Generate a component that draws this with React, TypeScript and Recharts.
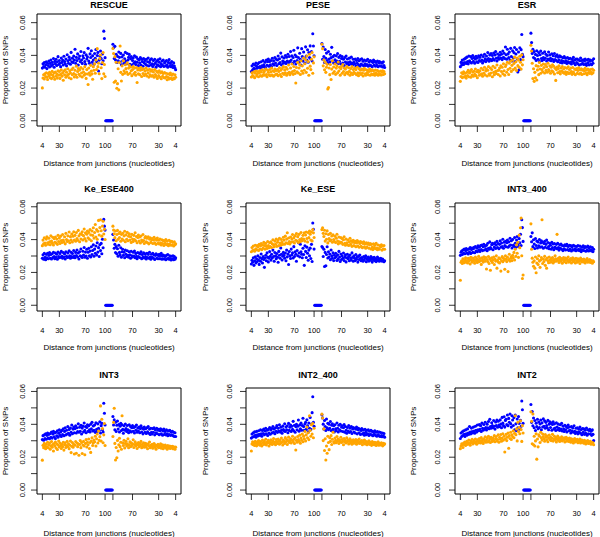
import React from 'react';
import { ScatterChart, Scatter, XAxis, YAxis, ReferenceArea } from 'recharts';

// Proportion of SNPs, stored in units of 1e-4 (e.g. 335 = 0.0335).
// "_L" arrays: distances 4..100 (left half); "_R" arrays: distances 100..4 (right half).
const TITLES = ['RESCUE', 'PESE', 'ESR', 'Ke_ESE400', 'Ke_ESE', 'INT3_400', 'INT3', 'INT2_400', 'INT2'];
const X_TICK_LEFT = [4, 30, 70, 100];
const X_TICK_RIGHT = [100, 70, 30, 4];
const Y_TICKS = [0, 0.01, 0.02, 0.03, 0.04, 0.05, 0.06];
const Y_TICK_LABELS = ['0.00', '', '0.02', '', '0.04', '', '0.06'];
const JUNCTION_ZEROS = [0, 0, 0, 0, 0, 0, 0, 0, 0, 0, 0];

const RESCUE_BLUE_L = [322,348,331,356,327,343,361,319,352,338,366,329,351,372,336,358,344,381,327,363,349,376,338,361,392,344,369,352,331,384,357,371,341,395,362,349,378,336,404,367,352,389,374,346,418,361,383,357,396,371,437,352,388,369,409,341,381,396,362,424,372,351,398,384,417,362,346,403,378,391,443,366,352,409,387,428,358,397,371,346,411,382,436,362,399,418,304,371,396,427,381,349,408,367,548,503,386];
const RESCUE_BLUE_R = [468,447,381,455,372,407,356,394,367,421,388,359,412,343,391,367,402,352,379,418,364,351,411,372,388,406,346,379,393,341,369,384,352,397,361,344,389,358,378,337,372,353,386,341,377,362,333,381,354,369,345,376,338,361,384,336,357,371,341,379,349,332,368,344,376,353,328,364,342,373,337,358,379,331,348,366,339,371,332,354,361,336,368,342,328,357,374,335,351,331,362,339,326,354,335,322,312];
const RESCUE_ORANGE_L = [201,262,281,256,287,271,294,266,252,289,276,297,263,284,258,302,279,268,293,254,298,272,287,261,306,279,301,259,284,311,273,293,248,304,281,312,266,297,276,318,284,263,306,292,257,314,281,323,289,268,309,281,334,266,301,319,284,311,274,326,292,268,317,298,279,331,288,259,313,286,222,323,294,278,339,304,287,254,331,309,348,291,372,314,441,331,352,288,381,402,324,258,356,417,287,344,271];
const RESCUE_ORANGE_R = [442,411,236,392,243,358,199,227,318,189,356,457,296,243,336,284,367,306,291,343,319,298,354,284,322,339,291,329,306,276,313,331,287,322,297,279,326,234,311,288,321,282,309,326,271,313,289,318,277,305,286,322,274,309,292,267,315,281,303,272,311,277,298,266,313,283,272,302,259,296,276,305,266,293,257,299,272,289,264,295,262,291,271,251,287,265,256,283,292,259,279,253,286,262,257,281,266];

const PESE_BLUE_L = [301,336,312,347,321,341,316,353,334,322,349,327,356,331,322,361,336,329,368,342,331,358,323,371,339,362,377,334,363,343,369,331,382,348,367,341,387,353,376,338,372,396,349,379,356,414,342,391,366,352,384,359,399,351,389,366,407,357,393,363,423,371,397,351,387,431,363,402,347,392,368,446,387,358,413,376,341,441,393,366,421,384,353,452,396,371,434,358,417,387,458,378,424,366,532,457,398];
const PESE_BLUE_R = [472,376,451,393,356,436,382,414,369,351,423,378,361,407,386,449,366,392,353,401,373,357,397,366,411,351,388,363,399,347,381,393,353,376,339,387,359,396,351,378,356,343,383,361,347,389,353,341,376,358,349,377,336,369,352,381,342,367,334,374,347,379,341,364,336,372,349,338,367,344,376,333,361,342,369,337,363,331,356,371,341,363,334,357,339,366,331,354,362,336,358,333,352,329,361,337,326];
const PESE_ORANGE_L = [268,293,277,272,299,263,291,304,274,288,301,269,292,307,276,298,272,311,279,295,304,278,316,283,269,309,297,281,314,276,299,322,279,306,273,301,317,282,308,286,313,276,302,324,283,309,271,319,291,331,284,311,293,327,279,316,291,341,297,282,323,294,347,301,284,332,307,289,231,326,299,357,292,323,342,283,367,304,336,291,384,309,349,373,296,396,321,362,278,407,334,313,376,417,291,354,391];
const PESE_ORANGE_R = [468,441,336,372,312,358,296,327,345,194,203,323,282,344,252,316,367,291,329,301,347,284,322,336,293,359,304,327,279,318,332,291,344,301,323,282,316,293,331,297,287,324,302,278,319,292,331,283,314,296,322,289,313,281,327,294,276,318,291,309,283,316,292,274,309,321,287,279,312,293,308,282,301,317,278,304,286,311,281,306,289,278,310,292,284,307,279,301,286,282,304,280,297,306,283,301,288];

const ESR_BLUE_L = [331,357,341,372,354,344,377,356,383,351,389,362,348,396,367,359,392,354,381,399,363,386,352,378,394,361,384,356,397,369,388,364,402,371,353,393,366,407,379,362,396,373,417,381,364,403,376,411,368,399,381,414,371,403,423,382,366,408,387,376,401,419,383,407,374,426,388,413,381,451,404,377,437,409,386,421,371,443,393,366,428,384,417,448,362,408,436,379,298,421,312,447,374,435,528,406,392];
const ESR_BLUE_R = [536,478,412,437,387,423,381,406,369,428,399,376,417,362,404,426,381,368,413,386,374,422,383,407,366,399,378,421,371,403,382,367,410,376,398,363,411,374,394,369,403,361,389,372,397,356,391,368,353,386,364,392,357,383,366,351,387,361,379,354,382,359,347,376,363,388,352,371,343,378,356,377,349,372,341,367,384,346,369,352,373,344,366,377,348,339,371,353,376,342,364,371,347,343,368,352,379];
const ESR_ORANGE_L = [241,271,293,264,286,299,268,291,274,261,296,277,308,269,292,301,266,313,279,298,272,303,284,317,276,300,263,309,296,278,306,282,321,288,273,312,291,327,280,304,316,274,309,331,287,278,323,292,314,269,333,296,281,324,302,289,341,307,283,309,322,274,336,301,327,288,348,306,279,332,343,297,358,314,283,352,321,366,302,339,371,313,351,389,322,361,307,383,337,371,327,395,358,316,404,342,373];
const ESR_ORANGE_R = [462,427,352,258,318,241,296,263,337,249,311,333,282,356,317,291,339,313,300,347,326,292,344,308,331,297,352,313,304,336,291,327,306,342,299,333,286,321,247,313,328,294,319,336,301,287,323,304,332,296,317,291,326,300,284,321,297,330,289,314,293,322,301,284,326,298,289,316,281,312,319,290,307,324,286,313,292,318,283,309,314,288,306,323,291,310,282,317,294,308,290,313,296,287,317,293,309];

const KE_ESE400_BLUE_L = [286,307,281,316,292,278,310,289,317,283,304,321,286,309,282,314,291,323,296,284,318,292,311,280,324,297,289,316,293,328,299,286,321,294,313,282,326,298,291,319,293,332,301,287,323,296,316,291,334,300,289,322,303,337,294,318,282,326,301,343,297,291,329,306,352,293,324,300,341,286,323,347,302,331,294,356,309,334,368,299,342,317,361,306,381,324,351,297,369,333,377,314,402,350,523,482,458];
const KE_ESE400_BLUE_R = [432,398,347,371,321,357,313,344,299,366,322,307,350,293,326,341,304,323,289,336,311,297,332,304,293,326,308,286,329,302,294,323,300,331,289,316,298,284,321,296,317,291,312,326,284,309,293,320,288,313,296,282,317,291,310,286,323,294,281,311,292,316,287,308,279,304,313,286,307,283,301,310,284,303,316,281,299,306,282,302,297,278,304,283,309,286,280,301,284,276,299,282,301,278,296,281,289];
const KE_ESE400_ORANGE_L = [363,397,374,411,379,366,403,417,381,372,408,386,369,423,391,378,414,367,406,384,416,380,403,371,426,388,409,376,421,394,382,431,397,386,417,374,438,400,389,423,393,446,381,418,397,434,386,421,447,398,426,390,443,407,396,456,423,387,436,404,432,448,398,424,465,406,441,392,433,452,411,444,402,461,429,393,452,426,472,409,443,492,416,461,402,451,517,428,473,521,454,421,483,512,434,463,401];
const KE_ESE400_ORANGE_R = [482,458,436,412,452,393,431,456,402,437,413,446,390,432,404,438,396,423,451,387,429,402,444,393,421,436,398,417,383,432,404,389,426,400,442,393,419,381,413,428,391,416,379,422,397,388,431,394,376,412,419,386,408,381,417,374,403,411,383,400,407,376,398,414,380,402,371,397,409,378,396,373,404,381,367,399,376,394,364,392,377,400,369,391,373,363,396,371,389,366,390,368,384,361,386,369,374];

const KE_ESE_BLUE_L = [251,274,262,289,243,271,295,258,283,267,302,276,249,291,268,312,284,257,296,279,231,288,305,271,319,293,264,286,327,298,275,311,288,336,297,268,321,302,284,315,293,262,328,305,286,349,311,276,299,322,304,287,318,271,336,295,312,248,327,301,285,342,306,319,288,357,297,326,311,268,334,302,381,318,295,372,326,311,289,347,309,243,362,328,291,354,317,274,336,302,348,285,371,267,501,463,342];
const KE_ESE_BLUE_R = [358,352,297,341,236,322,241,309,356,288,326,294,312,278,337,301,286,319,272,305,289,317,296,273,308,281,328,294,267,312,279,301,286,318,272,293,307,264,289,311,283,297,271,306,288,276,319,292,268,301,287,272,309,281,295,263,298,279,306,286,271,291,282,268,297,276,289,301,265,284,278,293,269,285,274,296,281,263,289,276,292,271,283,266,279,294,272,285,268,279,286,274,269,281,273,265,271];
const KE_ESE_ORANGE_L = [326,352,333,361,337,329,366,344,338,363,357,334,371,343,362,376,339,367,348,383,364,342,377,359,346,388,363,351,381,357,386,352,374,399,368,356,391,372,403,359,384,397,363,408,379,366,401,383,371,414,397,372,421,381,403,442,376,410,388,373,416,384,403,431,387,412,379,424,396,437,391,418,383,432,400,387,443,406,394,426,404,442,391,428,446,407,386,443,412,452,433,398,446,392,462,441,413];
const KE_ESE_ORANGE_R = [461,472,438,419,457,391,436,402,453,380,431,406,393,438,397,422,384,429,401,389,420,382,408,433,391,374,416,387,379,412,384,406,371,399,417,378,366,403,381,369,397,364,386,408,371,393,359,384,396,363,382,390,357,379,394,361,386,353,377,388,359,383,351,376,387,356,374,348,381,354,372,379,347,368,376,343,371,353,339,374,351,366,344,377,349,338,367,346,341,363,357,368,336,361,343,364,341];

const INT3_400_BLUE_L = [304,323,331,309,336,317,342,314,333,346,319,340,312,343,324,351,316,339,348,322,344,353,320,357,331,349,326,362,336,354,328,363,340,367,333,356,372,337,360,343,366,332,378,347,341,386,352,344,369,377,338,373,354,381,346,367,389,352,376,344,371,393,353,379,358,402,347,384,363,390,356,381,397,353,386,362,408,367,393,349,401,366,359,413,378,354,397,419,372,358,406,381,432,364,521,473,389];
const INT3_400_BLUE_R = [419,387,441,357,399,373,346,407,364,391,349,386,362,401,354,379,393,356,384,347,376,389,353,371,397,349,382,358,344,377,366,342,383,351,373,338,376,354,347,371,344,377,352,336,368,349,373,341,364,333,361,344,369,337,363,372,340,358,334,366,342,363,331,357,339,366,336,361,344,332,358,337,364,341,333,360,339,327,354,336,362,334,351,357,329,353,336,360,331,349,333,356,338,331,352,327,341];
const INT3_400_ORANGE_L = [152,262,271,254,283,266,259,277,289,264,273,258,286,269,281,252,292,274,263,287,268,279,256,294,272,284,261,277,298,266,285,271,249,289,276,263,295,282,268,291,221,279,266,297,254,284,213,272,289,261,277,294,248,282,269,301,226,276,263,289,258,283,208,271,296,265,287,274,219,302,281,266,293,205,278,311,269,286,297,272,304,289,322,276,341,298,368,317,384,292,427,351,472,531,302,163,184];
const INT3_400_ORANGE_R = [496,341,287,262,238,271,226,294,198,257,283,248,302,269,231,276,291,521,254,282,267,298,243,279,226,288,271,259,294,276,262,285,272,291,257,278,266,301,283,269,432,274,286,261,292,277,268,284,256,279,291,266,276,288,259,282,271,294,263,278,269,284,257,276,289,265,273,281,258,286,271,262,283,268,277,254,287,273,266,279,264,281,272,258,276,269,284,262,274,267,279,261,273,268,256,271,265];

const INT3_BLUE_L = [307,331,303,336,314,342,309,333,347,316,339,312,344,321,353,316,341,357,324,348,313,352,330,361,322,346,367,333,354,326,363,338,372,331,357,379,336,364,341,386,346,369,334,377,352,396,343,371,383,349,374,391,347,379,356,403,352,382,358,394,341,377,389,354,408,363,386,349,381,397,357,392,366,353,401,372,412,359,390,364,396,351,409,369,357,403,376,362,416,347,392,406,367,353,528,467,396];
const INT3_BLUE_R = [448,396,427,367,413,356,394,420,371,399,353,388,406,362,397,369,346,391,364,402,374,357,393,366,349,397,361,386,354,379,392,358,381,347,386,364,396,352,377,359,383,349,374,391,353,377,342,370,384,351,373,344,379,354,387,346,371,338,376,352,341,374,352,379,336,367,348,376,343,364,370,337,361,373,342,366,334,359,371,339,357,336,366,342,331,360,338,363,333,354,336,358,331,352,326,349,326];
const INT3_ORANGE_L = [182,272,258,284,266,251,279,263,291,257,274,286,249,269,295,261,277,238,283,268,292,256,281,247,274,298,262,286,271,253,279,264,291,243,276,288,259,271,296,265,282,252,274,298,228,267,289,261,279,219,273,295,224,286,264,281,212,277,301,258,289,222,274,296,268,215,284,307,262,291,276,311,253,289,229,298,318,271,286,305,294,327,268,312,341,286,359,302,325,512,298,431,374,288,336,405,271];
const INT3_ORANGE_R = [326,412,498,284,183,259,197,302,238,276,315,264,291,248,452,287,271,303,256,284,297,269,281,312,258,276,293,264,287,271,282,306,259,277,294,268,281,253,276,289,264,283,271,296,258,279,267,288,261,274,285,262,276,251,281,269,292,257,273,266,278,254,268,283,261,274,249,271,265,279,258,272,263,281,255,267,276,252,269,261,274,257,266,248,271,262,256,268,253,264,259,267,251,263,256,248,261];

const INT2_400_BLUE_L = [316,341,323,348,326,354,333,321,357,336,329,361,340,333,366,342,327,363,344,371,337,359,376,343,364,332,369,347,381,340,366,374,348,387,352,371,343,379,357,392,351,376,359,397,353,382,363,346,389,368,360,403,356,384,367,391,349,406,363,382,396,357,388,369,418,361,394,352,386,400,367,389,426,358,396,373,407,364,393,437,386,363,402,412,369,428,391,354,408,376,442,369,401,471,568,412,388];
const INT2_400_BLUE_R = [458,439,401,371,423,387,363,432,379,406,368,401,376,417,362,394,403,369,391,354,397,372,361,408,376,353,394,366,400,359,383,391,356,379,398,352,387,364,346,381,359,393,351,377,356,386,344,372,380,353,376,347,371,383,342,367,376,349,370,338,363,374,342,366,347,334,369,351,337,364,343,366,332,358,340,363,336,357,331,354,339,361,333,352,328,356,337,331,353,326,350,332,324,347,329,344,322];
const INT2_400_ORANGE_L = [238,281,294,276,288,271,297,284,269,292,279,301,286,273,295,282,268,304,289,277,296,283,309,274,291,287,302,268,294,281,306,289,277,298,313,284,292,276,308,295,283,311,296,279,302,288,316,291,274,305,297,284,319,293,308,277,301,322,289,299,312,286,304,327,295,309,283,318,244,302,291,326,308,297,334,285,316,303,341,294,328,312,357,299,336,384,318,349,307,452,363,327,398,341,405,318,376];
const INT2_400_ORANGE_R = [462,438,301,372,241,312,183,268,224,327,289,246,318,296,331,277,309,352,294,286,317,302,288,326,297,311,283,305,294,321,289,308,297,276,314,293,302,286,318,295,304,281,297,312,288,301,279,294,306,285,298,291,307,279,295,302,286,311,283,296,289,301,276,294,286,305,281,297,288,276,293,284,299,278,291,286,272,295,281,289,276,291,283,271,288,279,294,273,285,281,274,288,279,269,284,276,282];

const INT2_BLUE_L = [314,347,326,354,332,361,339,326,366,343,334,372,347,339,386,353,342,377,356,348,383,359,346,388,364,353,396,367,361,398,369,392,357,407,376,364,399,372,413,381,366,401,379,417,373,431,387,376,410,392,379,423,388,371,414,393,426,382,419,396,386,427,401,379,442,407,392,446,383,424,431,398,457,392,436,413,463,404,383,452,426,393,441,367,457,403,361,432,379,447,406,371,424,388,542,489,406];
const INT2_BLUE_R = [521,412,478,391,438,379,423,362,407,386,431,373,414,381,402,426,367,409,384,433,388,421,376,412,393,379,424,367,401,416,381,407,364,399,416,372,403,378,362,409,384,367,401,376,363,397,371,406,359,390,372,356,394,367,387,353,379,396,361,384,364,347,386,359,378,352,391,357,344,376,353,379,342,371,354,383,346,368,337,374,351,373,339,364,346,378,334,367,343,362,369,341,358,333,366,339,301];
const INT2_ORANGE_L = [252,268,281,274,259,286,277,292,271,283,296,278,288,304,285,273,298,289,309,281,294,303,286,311,292,279,306,297,288,314,301,287,319,296,308,284,312,299,324,291,306,318,293,327,301,314,289,321,308,296,317,302,331,294,313,326,299,308,336,291,321,309,338,297,316,343,304,327,232,312,339,301,322,347,254,331,314,352,308,336,324,361,318,346,452,337,372,299,413,356,381,343,421,368,296,392,347];
const INT2_ORANGE_R = [476,418,282,463,276,327,268,299,342,188,311,263,336,327,289,352,318,304,341,326,312,297,338,321,306,329,294,317,335,308,322,301,316,339,298,311,327,305,319,293,312,328,303,318,296,314,307,324,299,311,305,318,292,309,321,298,313,302,296,316,303,291,312,299,307,286,301,314,293,305,297,309,288,302,294,311,286,299,305,291,298,285,303,292,281,296,289,301,284,293,287,296,279,291,284,288,276];

const BLUE_L = [RESCUE_BLUE_L, PESE_BLUE_L, ESR_BLUE_L, KE_ESE400_BLUE_L, KE_ESE_BLUE_L, INT3_400_BLUE_L, INT3_BLUE_L, INT2_400_BLUE_L, INT2_BLUE_L];
const BLUE_R = [RESCUE_BLUE_R, PESE_BLUE_R, ESR_BLUE_R, KE_ESE400_BLUE_R, KE_ESE_BLUE_R, INT3_400_BLUE_R, INT3_BLUE_R, INT2_400_BLUE_R, INT2_BLUE_R];
const ORANGE_L = [RESCUE_ORANGE_L, PESE_ORANGE_L, ESR_ORANGE_L, KE_ESE400_ORANGE_L, KE_ESE_ORANGE_L, INT3_400_ORANGE_L, INT3_ORANGE_L, INT2_400_ORANGE_L, INT2_ORANGE_L];
const ORANGE_R = [RESCUE_ORANGE_R, PESE_ORANGE_R, ESR_ORANGE_R, KE_ESE400_ORANGE_R, KE_ESE_ORANGE_R, INT3_400_ORANGE_R, INT3_ORANGE_R, INT2_400_ORANGE_R, INT2_ORANGE_R];

// x index layout: left distances 4..100 -> 0..96, junction -> 97..107, right distances 100..4 -> 108..204
const leftIndex = (d: number) => d - 4;
const rightIndex = (d: number) => 108 + (100 - d);
const X_TICK_POS = [...X_TICK_LEFT.map(leftIndex), ...X_TICK_RIGHT.map(rightIndex)];
const X_TICK_TEXT = [...X_TICK_LEFT, ...X_TICK_RIGHT].map(String);
const X_DOMAIN: [number, number] = [-8.2, 212.2];

const SCALE = 10000;
function buildPoints(left: number[], right: number[], junction: number[] | null) {
  const pts: { x: number; y: number }[] = [];
  left.forEach((v, k) => pts.push({ x: k, y: v / SCALE }));
  if (junction) junction.forEach((v, k) => pts.push({ x: 97 + k, y: v / SCALE }));
  right.forEach((v, k) => pts.push({ x: 108 + k, y: v / SCALE }));
  return pts;
}

// layout (page pixels)
const BOX_LEFT = [37, 246, 455];
const BOX_W = 144;
const BOX_TOP = [14, 203, 388];
const BOX_BOTTOM = [126, 311, 494];
const Y_DOMAINS: [number, number][] = [[-0.0032, 0.0653], [-0.0035, 0.0623], [-0.0024, 0.0621]];
const TITLE_Y = [5, 189, 375];
const XLABEL_Y = [163, 347, 533];
const YLABEL_X = [5, 205, 413];
const YTICK_OFF = [14, 16, 17];
const FONT = '"Liberation Sans", Arial, Helvetica, sans-serif';
const BLUE = '#0000FF';
const ORANGE = '#FFA500';
const CH_W = 190;
const M_LEFT = 7;
const Y_W = 30;
const M_TOP = 14;
const X_H = 45;

const dot = (color: string) => (props: any) => (
  <circle cx={props.cx} cy={props.cy} r={1.55} fill={color} />
);

function Panel({ idx }: { idx: number }) {
  const col = idx % 3;
  const row = Math.floor(idx / 3);
  const boxH = BOX_BOTTOM[row] - BOX_TOP[row];
  const height = M_TOP + boxH + X_H;
  const blue = buildPoints(BLUE_L[idx], BLUE_R[idx], JUNCTION_ZEROS);
  const orange = buildPoints(ORANGE_L[idx], ORANGE_R[idx], null);
  const yDom = Y_DOMAINS[row];
  const plotLeft = M_LEFT + Y_W;

  const xTick = (p: any) => {
    const i = X_TICK_POS.indexOf(p.payload.value);
    if (i === 4) return <g />;
    return (
      <text x={p.x} y={p.y + 13} textAnchor="middle" dominantBaseline="central"
        fontSize={7.5} fontFamily={FONT} fill="#000">{X_TICK_TEXT[i]}</text>
    );
  };
  const yTick = (p: any) => {
    const i = Y_TICKS.findIndex((t) => Math.abs(t - p.payload.value) < 1e-9);
    const label = Y_TICK_LABELS[i];
    if (!label) return <g />;
    const cx = plotLeft - YTICK_OFF[col];
    return (
      <text x={cx} y={p.y} textAnchor="middle" dominantBaseline="central"
        transform={`rotate(-90 ${cx} ${p.y})`}
        fontSize={7.5} fontFamily={FONT} fill="#000">{label}</text>
    );
  };

  return (
    <div style={{ position: 'absolute', left: BOX_LEFT[col] - plotLeft, top: BOX_TOP[row] - M_TOP }}>
      <ScatterChart width={CH_W} height={height}
        margin={{ top: M_TOP, right: CH_W - plotLeft - BOX_W, bottom: 0, left: M_LEFT }}>
        <XAxis type="number" dataKey="x" domain={X_DOMAIN} ticks={X_TICK_POS} interval={0}
          allowDataOverflow axisLine={false} tickLine={{ stroke: '#000', strokeWidth: 0.8 }}
          tickSize={6} tickMargin={0} height={X_H} tick={xTick} />
        <YAxis type="number" dataKey="y" domain={yDom} ticks={Y_TICKS} interval={0}
          allowDataOverflow axisLine={false} tickLine={{ stroke: '#000', strokeWidth: 0.8 }}
          tickSize={6} tickMargin={0} width={Y_W} tick={yTick} />
        <ReferenceArea x1={X_DOMAIN[0]} x2={X_DOMAIN[1]} y1={yDom[0]} y2={yDom[1]}
          fill="none" fillOpacity={0} stroke="#000" strokeWidth={1} ifOverflow="visible" />
        <Scatter data={blue} fill={BLUE} shape={dot(BLUE)} isAnimationActive={false} />
        <Scatter data={orange} fill={ORANGE} shape={dot(ORANGE)} isAnimationActive={false} />
      </ScatterChart>
    </div>
  );
}

export default function App() {
  return (
    <div style={{ position: 'absolute', left: 0, top: 0, width: 600, height: 537, overflow: 'hidden', background: '#fff' }}>
      {TITLES.map((_, i) => <Panel key={i} idx={i} />)}
      <svg width={600} height={537} style={{ position: 'absolute', left: 0, top: 0, pointerEvents: 'none' }}>
        {TITLES.map((t, i) => {
          const col = i % 3;
          const row = Math.floor(i / 3);
          const cx = BOX_LEFT[col] + BOX_W / 2;
          const cy = (BOX_TOP[row] + BOX_BOTTOM[row]) / 2;
          return (
            <g key={t} fontFamily={FONT} fill="#000">
              <text x={cx} y={TITLE_Y[row]} textAnchor="middle" dominantBaseline="central"
                fontSize={9} fontWeight="bold">{t}</text>
              <text x={cx} y={XLABEL_Y[row]} textAnchor="middle" dominantBaseline="central"
                fontSize={8}>Distance from junctions (nucleotides)</text>
              <text x={YLABEL_X[col]} y={cy} textAnchor="middle" dominantBaseline="central"
                transform={`rotate(-90 ${YLABEL_X[col]} ${cy})`} fontSize={8}>Proportion of SNPs</text>
            </g>
          );
        })}
      </svg>
    </div>
  );
}
